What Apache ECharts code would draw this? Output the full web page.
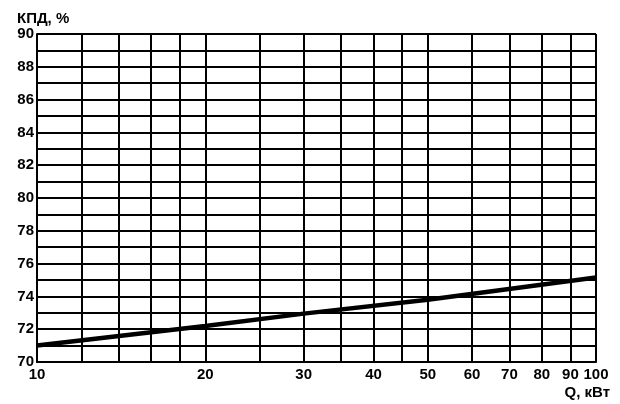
<!DOCTYPE html>
<html>
<head>
<meta charset="utf-8">
<script src="https://cdn.jsdelivr.net/npm/echarts@6/dist/echarts.min.js"></script>
<style>
  html, body { margin: 0; padding: 0; background: #fff; }
  #chart { width: 620px; height: 404px; }
</style>
</head>
<body>
<div id="chart"></div>
<script>
// Q, кВт (log scale) and КПД, %
const qValues = [10, 20, 30, 50, 100]
const effValues = [71.0, 72.2, 72.95, 73.8, 75.15]
const qGridTicks = [10, 12, 14, 16, 18, 20, 25, 30, 35, 40, 45, 50, 60, 70, 80, 90, 100]
const qLabelTicks = [10, 20, 30, 40, 50, 60, 70, 80, 90, 100]

const font = 'Liberation Sans, Arial, sans-serif'
const chart = echarts.init(document.getElementById('chart'))

const option = {
  animation: false,
  title: [
    { text: 'КПД, %', left: 17, top: 11, padding: 0, textStyle: { fontFamily: font, fontSize: 15, fontWeight: 'bold', color: '#000' } },
    { text: 'Q, кВт', right: 10, top: 385, padding: 0, textStyle: { fontFamily: font, fontSize: 15, fontWeight: 'bold', color: '#000' } }
  ],
  grid: { left: 37, right: 24, top: 34, bottom: 42 },
  xAxis: {
    type: 'log',
    logBase: 10,
    min: 10,
    max: 100,
    axisLine: { lineStyle: { color: '#000', width: 2 } },
    axisTick: { show: false, customValues: qGridTicks },
    axisLabel: {
      customValues: qLabelTicks,
      color: '#000', fontFamily: font, fontSize: 15, fontWeight: 'bold', margin: 5
    },
    splitLine: { show: true, lineStyle: { color: '#000', width: 2 } },
    minorSplitLine: { show: false }
  },
  yAxis: {
    type: 'value',
    min: 70,
    max: 90,
    interval: 1,
    axisLine: { show: true, lineStyle: { color: '#000', width: 2 } },
    axisTick: { show: false },
    axisLabel: {
      color: '#000', fontFamily: font, fontSize: 15, fontWeight: 'bold', margin: 3,
      formatter: v => (v % 2 === 0 ? String(v) : '')
    },
    splitLine: { show: true, lineStyle: { color: '#000', width: 2 } }
  },
  series: [
    {
      type: 'line',
      data: qValues.map((q, i) => [q, effValues[i]]),
      showSymbol: false,
      lineStyle: { color: '#000', width: 4.5 }
    }
  ]
}

chart.setOption(option)
</script>
</body>
</html>
